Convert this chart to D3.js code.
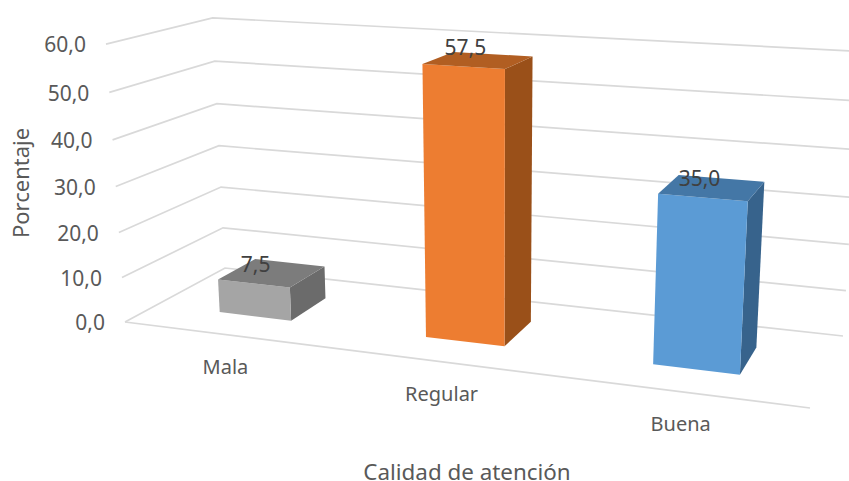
<!DOCTYPE html>
<html><head><meta charset="utf-8">
<script src="https://cdn.jsdelivr.net/npm/d3@7/dist/d3.min.js"></script>
<style>html,body{margin:0;padding:0;background:#fff;overflow:hidden}svg{display:block}text{font-family:"Noto Sans",sans-serif}</style>
</head><body><svg id="c" width="849" height="481"></svg>
<script>
const categories = ["Mala", "Regular", "Buena"];
const values = [7.5, 57.5, 35.0];
const valueLabels = ["7,5", "57,5", "35,0"];
const tickValues = [0, 10, 20, 30, 40, 50, 60];
const tickLabels = ["0,0", "10,0", "20,0", "30,0", "40,0", "50,0", "60,0"];
const frontColors = ["#a5a5a5", "#ed7d31", "#5b9bd5"];
const topColors = ["#7c7c7c", "#b15e22", "#4477a6"];
const sideColors = ["#6b6b6b", "#9a5019", "#37638c"];
const xTitle = "Calidad de atención";
const yTitle = "Porcentaje";

// Camera: projected floor corners (front-left, front-right, back-right, back-left),
// vanishing point of the vertical edges, and the perspective strength of the height axis.
const floorQuad = [[125,322],[810,408],[843,336],[225,268]];
const verticalVP = [496,5750];
const heightK = -0.0487;
// Horizontal nudge of each value label from its bar's front-top centre.
const valueLabelDx = [2, 2, -3];

function homography(q){
  const [p0,p1,p2,p3]=q;
  const dx1=p1[0]-p2[0],dx2=p3[0]-p2[0],sx=p0[0]-p1[0]+p2[0]-p3[0];
  const dy1=p1[1]-p2[1],dy2=p3[1]-p2[1],sy=p0[1]-p1[1]+p2[1]-p3[1];
  const den=dx1*dy2-dx2*dy1;
  const g=(sx*dy2-dx2*sy)/den,h=(dx1*sy-sx*dy1)/den;
  const a=p1[0]-p0[0]+g*p1[0],b=p3[0]-p0[0]+h*p3[0],d=p1[1]-p0[1]+g*p1[1],e=p3[1]-p0[1]+h*p3[1];
  return (u,w)=>({nx:a*u+b*w+p0[0],ny:d*u+e*w+p0[1],z:g*u+h*w+1});
}
const hFloor=homography(floorQuad);

const xBand=d3.scaleBand().domain(categories).range([0,1]).paddingInner(0.643).paddingOuter(0.3215);
const yVal=d3.scaleLinear().domain([0,60]).range([0,1]);
const depth=d3.scaleLinear().domain([0,1]).range([0.30,0.69]);

function P(u,val,w){
  const f=hFloor(u,w),k=heightK*yVal(val),z=f.z+k;
  return [(f.nx+k*verticalVP[0])/z,(f.ny+k*verticalVP[1])/z];
}
const svg=d3.select("#c");
const line=d3.line();
const GRID="#d9d9d9",TXT="#595959";

// gridlines
svg.append("g").selectAll("path").data(tickValues).join("path")
  .attr("d",v=>line([P(0,v,0),P(0,v,1),P(1,v,1)]))
  .attr("fill","none").attr("stroke",GRID).attr("stroke-width",1.7);
svg.append("path").attr("d",line([P(0,0,0),P(1,0,0)]))
  .attr("fill","none").attr("stroke",GRID).attr("stroke-width",1.7);

// tick labels
svg.append("g").selectAll("text").data(tickValues).join("text")
  .attr("x",v=>P(0,v,0)[0]-20).attr("y",v=>P(0,v,0)[1]+1)
  .attr("dy","0.35em").attr("text-anchor","end").attr("fill",TXT).attr("font-size",21)
  .text((v,i)=>tickLabels[i]);

// bars
const bars=svg.append("g").selectAll("g").data(categories).join("g");
bars.each(function(c,i){
  const g=d3.select(this),u0=xBand(c),u1=u0+xBand.bandwidth(),w0=depth(0),w1=depth(1),v=values[i];
  g.append("path").attr("fill",sideColors[i]).attr("d",line([P(u1,0,w0),P(u1,0,w1),P(u1,v,w1),P(u1,v,w0)])+"Z");
  g.append("path").attr("fill",frontColors[i]).attr("d",line([P(u0,0,w0),P(u1,0,w0),P(u1,v,w0),P(u0,v,w0)])+"Z");
  g.append("path").attr("fill",topColors[i]).attr("d",line([P(u0,v,w0),P(u1,v,w0),P(u1,v,w1),P(u0,v,w1)])+"Z");
});

// value labels
svg.append("g").selectAll("text").data(categories).join("text")
  .attr("x",(c,i)=>P(xBand(c)+xBand.bandwidth()/2,values[i],depth(0))[0]+valueLabelDx[i])
  .attr("y",(c,i)=>P(xBand(c)+xBand.bandwidth()/2,values[i],depth(0))[1]-19)
  .attr("dy","0.35em").attr("text-anchor","middle").attr("fill","#404040").attr("font-size",21)
  .text((c,i)=>valueLabels[i]);

// category labels
svg.append("g").selectAll("text").data(categories).join("text")
  .attr("x",c=>P(xBand(c)+xBand.bandwidth()/2,0,0)[0])
  .attr("y",c=>P(xBand(c)+xBand.bandwidth()/2,0,0)[1]+32)
  .attr("dy","0.35em").attr("text-anchor","middle").attr("fill",TXT).attr("font-size",20)
  .text(c=>c);

svg.append("text").attr("x",467).attr("y",479.5).attr("text-anchor","middle")
  .attr("fill",TXT).attr("font-size",22.4).text(xTitle);
svg.append("text").attr("transform","translate(28.5,183) rotate(-90)").attr("text-anchor","middle")
  .attr("fill",TXT).attr("font-size",22).text(yTitle);
</script></body></html>
